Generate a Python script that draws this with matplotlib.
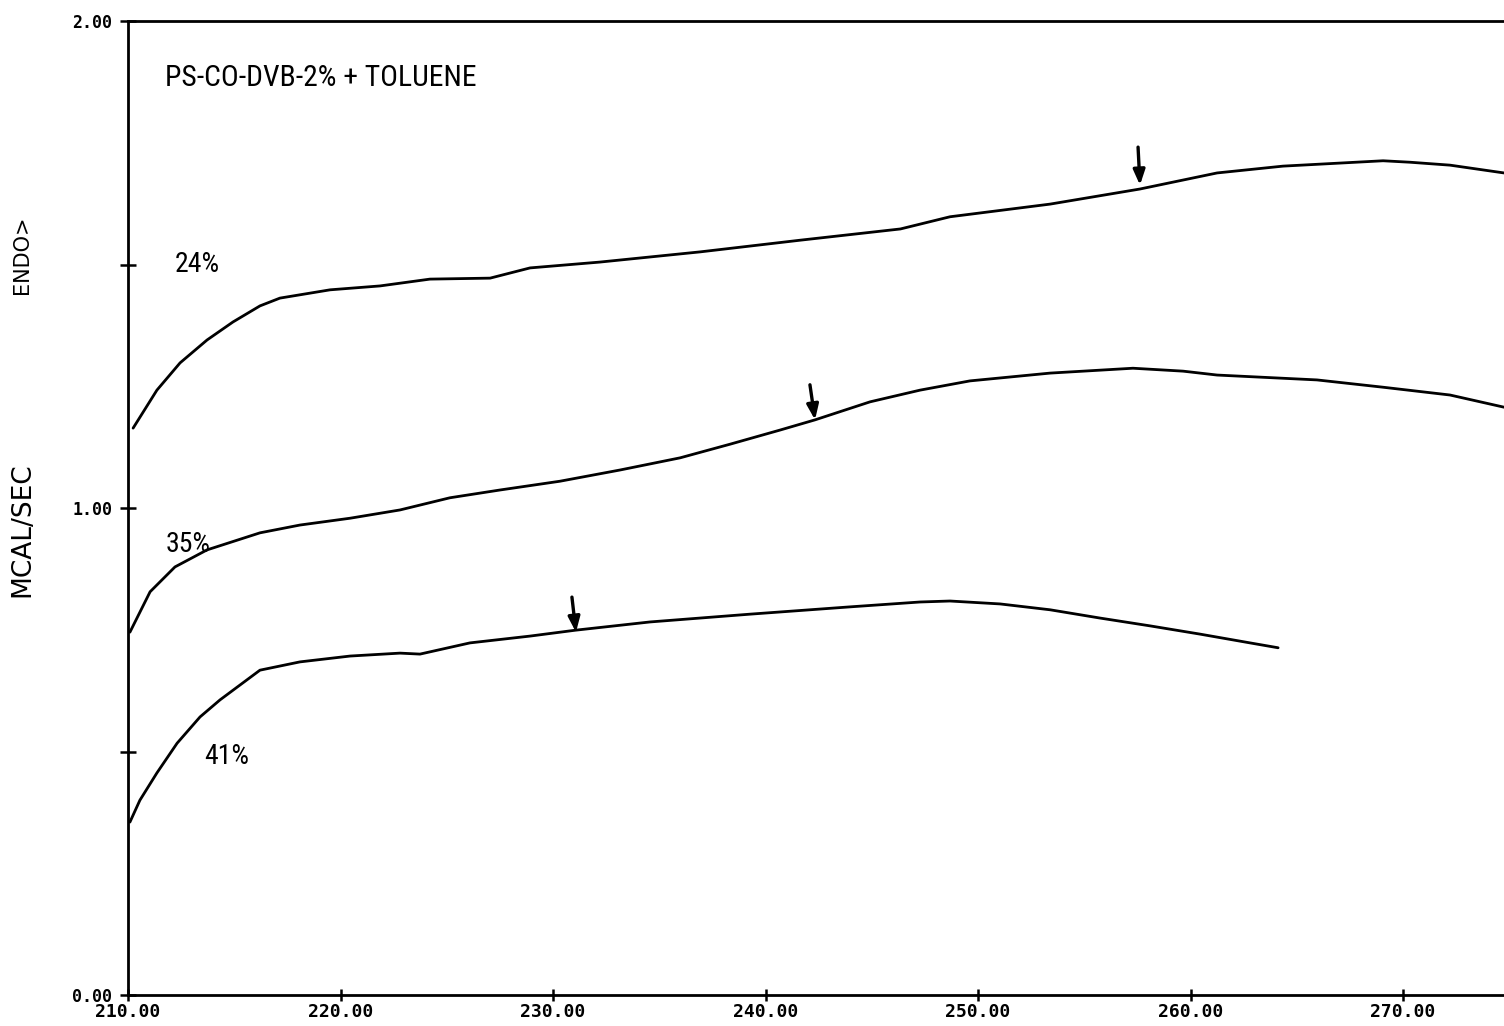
import matplotlib
matplotlib.use("Agg")
import matplotlib.pyplot as plt
from matplotlib import font_manager

# ---- data ----
x24 = [210.24, 211.36, 212.45, 213.72, 214.94, 216.21, 217.15, 219.51, 221.86, 224.21,
       227.04, 228.92, 232.21, 236.94, 241.65, 246.35, 248.68, 253.39, 257.62, 261.25,
       264.35, 269.06, 270.33, 272.21, 274.75]
y24 = [1.164, 1.242, 1.298, 1.345, 1.382, 1.415, 1.431, 1.448, 1.456, 1.470,
       1.472, 1.493, 1.505, 1.526, 1.550, 1.573, 1.598, 1.624, 1.655, 1.688,
       1.702, 1.713, 1.710, 1.704, 1.688]

x35 = [210.09, 211.04, 212.21, 213.72, 216.21, 218.09, 220.45, 222.80, 225.15, 227.51,
       230.33, 233.15, 235.98, 238.33, 240.68, 242.33, 244.92, 247.27, 249.62, 253.39,
       257.29, 259.65, 261.25, 265.95, 269.06, 272.21, 274.75]
y35 = [0.745, 0.828, 0.879, 0.914, 0.949, 0.965, 0.979, 0.996, 1.021, 1.037,
       1.055, 1.078, 1.103, 1.131, 1.160, 1.181, 1.218, 1.242, 1.261, 1.277,
       1.287, 1.281, 1.273, 1.263, 1.248, 1.232, 1.207]

x41 = [210.09, 210.56, 211.36, 212.31, 213.39, 214.33, 216.21, 218.09, 220.45, 222.80,
       223.74, 226.09, 228.92, 231.04, 234.56, 239.27, 243.98, 247.27, 248.68, 251.04,
       253.39, 255.74, 258.09, 260.45, 262.80, 264.12]
y41 = [0.355, 0.400, 0.456, 0.517, 0.571, 0.606, 0.667, 0.684, 0.696, 0.702,
       0.700, 0.723, 0.737, 0.749, 0.766, 0.782, 0.797, 0.807, 0.809, 0.803,
       0.791, 0.774, 0.758, 0.741, 0.723, 0.713]

# arrows: (tail_x, tail_y, tip_x, tip_y)
arrows = [
    (257.53, 1.741, 257.62, 1.663),
    (242.09, 1.253, 242.33, 1.181),
    (230.89, 0.817, 231.08, 0.745),
]

curve_labels = ["24%", "35%", "41%"]
label_pos = [(212.2, 1.50), (211.75, 0.925), (213.6, 0.49)]

xticks = [210, 220, 230, 240, 250, 260, 270]
xtick_labels = ["210.00", "220.00", "230.00", "240.00", "250.00", "260.00", "270.00"]
yticks = [0.0, 0.5, 1.0, 1.5, 2.0]
ytick_labels = ["0.00", "", "1.00", "", "2.00"]

title = "PS-CO-DVB-2% + TOLUENE"
ylabel = "MCAL/SEC"
endo = "ENDO>"

# ---- pick a condensed font if one is installed ----
names = {f.name for f in font_manager.fontManager.ttflist}
cond_family = None
cond_stretch = 'normal'
for cand in ['Liberation Sans Narrow', 'DejaVu Sans Condensed', 'Roboto Condensed',
             'Open Sans Condensed', 'Noto Sans Condensed']:
    if cand in names:
        cond_family = cand
        break
if cond_family is None:
    for f in font_manager.fontManager.ttflist:
        if f.name == 'DejaVu Sans' and f.stretch in ('condensed', 'semi-condensed', 600, 500):
            cond_family = 'DejaVu Sans'
            cond_stretch = 'condensed'
            break
if cond_family is None:
    text_family, title_size, pct_size = ['DejaVu Sans'], 16.5, 17
else:
    text_family, title_size, pct_size = [cond_family, 'DejaVu Sans'], 21.3, 20

# ---- figure ----
W, H = 1504, 1026
fig = plt.figure(figsize=(W / 100, H / 100), dpi=100)
ax = fig.add_axes([128 / W, 31 / H, 1 - 128 / W, (995 - 21) / H])

sans = ['DejaVu Sans']
mono = ['DejaVu Sans Mono', 'DejaVu Sans']

for xs, ys in [(x24, y24), (x35, y35), (x41, y41)]:
    ax.plot(xs, ys, color='black', lw=2.0, solid_capstyle='round',
            solid_joinstyle='round')

for tx, ty, hx, hy in arrows:
    ax.annotate("", xy=(hx, hy), xytext=(tx, ty),
                arrowprops=dict(arrowstyle='-|>,head_length=0.9,head_width=0.35',
                                color='black', lw=2.4, shrinkA=0, shrinkB=0))

for lab, (lx, ly) in zip(curve_labels, label_pos):
    ax.text(lx, ly, lab, fontsize=pct_size, family=text_family,
            fontstretch=cond_stretch, ha='left', va='center')

ax.text(211.75, 1.883, title, fontsize=title_size, family=text_family,
        fontstretch=cond_stretch, ha='left', va='center')

ax.set_xlim(210, 274.75)
ax.set_ylim(0, 2.0)
ax.set_xticks(xticks)
ax.set_xticklabels(xtick_labels, fontsize=13, fontweight='bold', family=mono)
ax.set_yticks(yticks)
ax.set_yticklabels(ytick_labels, fontsize=12, fontweight='bold', family=mono)

ax.spines['right'].set_visible(False)
for s in ['left', 'top', 'bottom']:
    ax.spines[s].set_linewidth(2.0)
ax.tick_params(axis='both', direction='inout', width=1.8)
ax.tick_params(axis='y', length=11, pad=6)
ax.tick_params(axis='x', length=8, pad=2)

fig.text(22 / W, 1 - 530 / H, ylabel, rotation=90, fontsize=19,
         family=sans, ha='center', va='center')
fig.text(22 / W, 1 - 255 / H, endo, rotation=90, fontsize=15,
         family=sans, ha='center', va='center')

fig.savefig("out.png", dpi=100)
